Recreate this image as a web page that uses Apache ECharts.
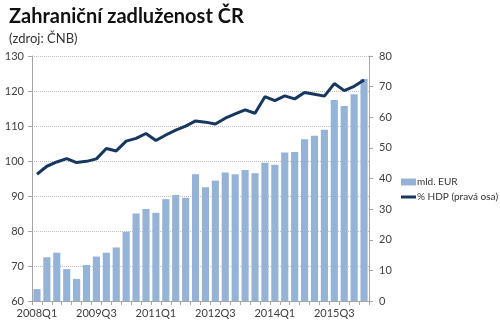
<!DOCTYPE html>
<html>
<head>
<meta charset="utf-8">
<script src="https://cdn.jsdelivr.net/npm/echarts@6/dist/echarts.min.js"></script>
<style>
  html, body { margin: 0; padding: 0; background: #fff; }
  #chart { width: 500px; height: 327px; }
</style>
</head>
<body>
<div id="chart"></div>
<script>
// Quarterly categories 2008Q1 .. 2016Q2
const quarters = [];
for (let y = 2008; y <= 2016; y++) {
  for (let q = 1; q <= 4; q++) {
    if (y === 2016 && q > 2) break;
    quarters.push(y + 'Q' + q);
  }
}

// External debt, bn EUR (left axis)
const debtEur = [
  63.4, 72.5, 73.8, 69.1, 66.3, 70.3, 72.7, 73.8, 75.3, 79.8,
  85.0, 86.3, 85.2, 89.1, 90.3, 89.5, 96.2, 92.5, 94.4, 96.7,
  96.2, 97.4, 96.5, 99.5, 98.9, 102.4, 102.6, 106.2, 107.2, 108.9,
  117.4, 115.7, 119.1, 123.4
];

// External debt, % of GDP (right axis)
const debtGdp = [
  41.4, 44.0, 45.4, 46.5, 45.2, 45.6, 46.4, 49.8, 49.0, 52.2,
  53.1, 54.7, 52.4, 54.2, 55.8, 57.1, 58.8, 58.4, 57.8, 59.7,
  61.1, 62.4, 61.3, 66.7, 65.4, 67.0, 66.0, 68.1, 67.5, 66.9,
  71.0, 68.7, 70.1, 72.2
];

const leftTicks = { min: 60, max: 130, step: 10 };
const rightTicks = { min: 0, max: 80, step: 10 };

const seriesNames = ['mld. EUR', '% HDP (pravá osa)'];

const textFont = 'Lato, "Open Sans", sans-serif';
const labelColor = '#404040';
const axisColor = '#a6a6a6';

const chart = echarts.init(document.getElementById('chart'), null, { renderer: 'canvas' });

chart.setOption({
  backgroundColor: '#ffffff',
  animation: false,
  title: {
    text: 'Zahraniční zadluženost ČR',
    subtext: '(zdroj: ČNB)',
    left: 4,
    top: 2,
    itemGap: 5,
    textStyle: {
      fontFamily: '"Liberation Sans Narrow", Lato, sans-serif',
      fontWeight: 'bold',
      fontSize: 20,
      color: '#111'
    },
    subtextStyle: {
      fontFamily: textFont,
      fontSize: 13,
      color: '#333'
    }
  },
  legend: {
    orient: 'vertical',
    left: 396,
    top: 172,
    itemGap: 5,
    itemWidth: 15,
    itemHeight: 7,
    textStyle: { fontFamily: textFont, fontSize: 10, color: '#333', padding: [0, 0, 0, -4] },
    data: [
      { name: seriesNames[0], icon: 'rect' },
      { name: seriesNames[1], icon: 'path://M0,0H15V3H0Z' }
    ]
  },
  grid: {
    left: 32,
    right: 131,
    top: 56,
    bottom: 26,
    containLabel: false
  },
  xAxis: {
    type: 'category',
    data: quarters,
    boundaryGap: true,
    axisLine: { lineStyle: { color: axisColor, width: 1 } },
    axisTick: { show: true, interval: 0, length: 4, lineStyle: { color: axisColor } },
    axisLabel: {
      interval: 5,
      color: labelColor,
      fontFamily: textFont,
      fontSize: 11,
      margin: 7
    },
    splitLine: { show: false }
  },
  yAxis: [
    {
      type: 'value',
      min: leftTicks.min,
      max: leftTicks.max,
      interval: leftTicks.step,
      position: 'left',
      axisLine: { show: true, lineStyle: { color: axisColor } },
      axisTick: { show: true, length: 4, lineStyle: { color: axisColor } },
      axisLabel: { color: labelColor, fontFamily: textFont, fontSize: 11, margin: 8 },
      splitLine: { show: true, lineStyle: { color: '#bfbfbf', type: [1, 1], width: 1 } }
    },
    {
      type: 'value',
      min: rightTicks.min,
      max: rightTicks.max,
      interval: rightTicks.step,
      position: 'right',
      axisLine: { show: true, lineStyle: { color: axisColor } },
      axisTick: { show: true, length: 4, lineStyle: { color: axisColor } },
      axisLabel: { color: labelColor, fontFamily: textFont, fontSize: 11, margin: 10 },
      splitLine: { show: false }
    }
  ],
  series: [
    {
      name: seriesNames[0],
      type: 'bar',
      yAxisIndex: 0,
      data: debtEur,
      barCategoryGap: '28%',
      itemStyle: { color: '#95b3d7' },
      z: 2
    },
    {
      name: seriesNames[1],
      type: 'line',
      yAxisIndex: 1,
      data: debtGdp,
      symbol: 'none',
      lineStyle: { color: '#17375e', width: 3 },
      itemStyle: { color: '#17375e' },
      z: 3
    }
  ]
});
</script>
</body>
</html>
